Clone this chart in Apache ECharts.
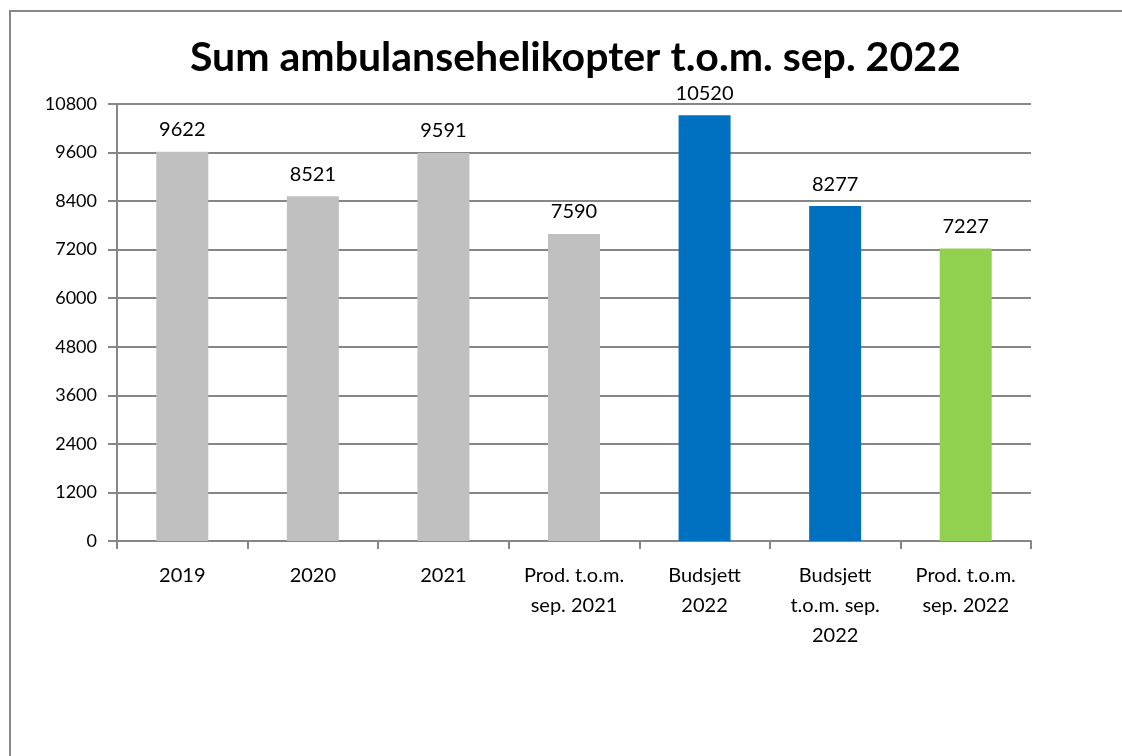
<!DOCTYPE html>
<html>
<head>
<meta charset="utf-8">
<script src="https://cdn.jsdelivr.net/npm/echarts@6/dist/echarts.min.js"></script>
<style>
  html, body { margin: 0; padding: 0; background: #fff; }
  #chart { width: 1122px; height: 756px; }
</style>
</head>
<body>
<div id="chart"></div>
<script>
// data
const categories = ['2019', '2020', '2021', 'Prod. t.o.m.\nsep. 2021', 'Budsjett\n2022', 'Budsjett\nt.o.m. sep.\n2022', 'Prod. t.o.m.\nsep. 2022'];
const values = [9622, 8521, 9591, 7590, 10520, 8277, 7227];
const barColors = ['#C0C0C0', '#C0C0C0', '#C0C0C0', '#C0C0C0', '#0070C0', '#0070C0', '#92D050'];

const font = 'Lato, "Open Sans", sans-serif';
const myChart = echarts.init(document.getElementById('chart'));

const option = {
  animation: false,
  backgroundColor: '#fff',
  graphic: [
    {
      type: 'rect',
      shape: { x: 10, y: 11, width: 1200, height: 800 },
      style: { fill: 'none', stroke: '#888', lineWidth: 2 }
    }
  ],
  title: {
    text: 'Sum ambulansehelikopter t.o.m. sep. 2022',
    left: 185,
    top: 32,
    textStyle: { fontFamily: font, fontSize: 41, fontWeight: 'bold', color: '#000' }
  },
  grid: { left: 117, right: 91, top: 104, bottom: 215 },
  xAxis: {
    type: 'category',
    data: categories,
    axisLine: { lineStyle: { color: '#868686', width: 2 } },
    axisTick: { show: true, length: 8, lineStyle: { color: '#868686', width: 2 } },
    axisLabel: {
      interval: 0, margin: 20, color: '#000', fontFamily: font, fontSize: 20, lineHeight: 30
    }
  },
  yAxis: {
    type: 'value',
    min: 0,
    max: 10800,
    interval: 1200,
    axisLine: { show: true, lineStyle: { color: '#868686', width: 2 } },
    axisTick: { show: true, length: 9, lineStyle: { color: '#868686', width: 2 } },
    splitLine: { lineStyle: { color: '#868686', width: 2 } },
    axisLabel: { margin: 20, color: '#000', fontFamily: font, fontSize: 18, formatter: v => String(v) }
  },
  series: [
    {
      type: 'bar',
      barWidth: 52,
      data: values.map((v, i) => ({ value: v, itemStyle: { color: barColors[i] } })),
      label: {
        show: true, position: 'top', distance: 12,
        color: '#000', fontFamily: font, fontSize: 20
      }
    }
  ]
};
myChart.setOption(option);
</script>
</body>
</html>
